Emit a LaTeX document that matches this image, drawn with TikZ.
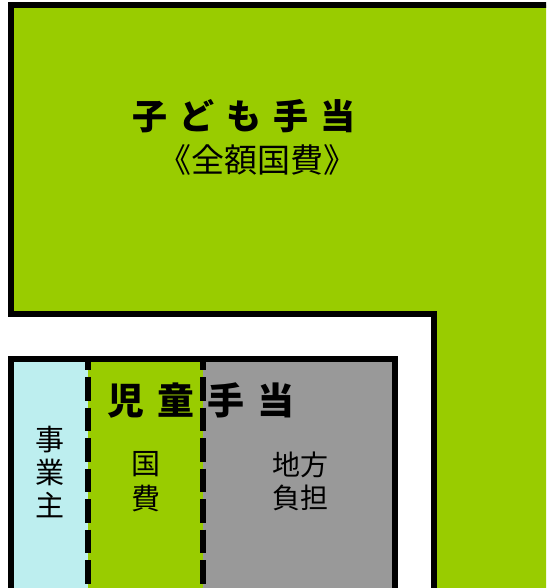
\documentclass[tikz,border=0pt]{standalone}
\usepackage{fontspec}
\setmainfont{Noto Sans CJK JP}
\definecolor{kgreen}{HTML}{99CC00}
\definecolor{kcyan}{HTML}{BDEEEF}
\definecolor{kgray}{HTML}{999999}
\tikzset{
  border/.style={draw=black, line width=6pt, line join=miter},
  divider/.style={draw=black, line width=6pt, dash pattern=on 23.5pt off 7pt, dash phase=12.5pt},
  lbl/.style={inner sep=0pt, anchor=center, align=center, text=black},
}
\begin{document}
\begin{tikzpicture}[x=1pt,y=-1pt]
\clip (0,0) rectangle (546,588);
\fill[white] (0,0) rectangle (546,588);
% big L-shaped green region
\fill[kgreen] (11,5) -- (560,5) -- (560,600) -- (434,600) -- (434,314) -- (11,314) -- cycle;
\draw[border] (560,5) -- (11,5) -- (11,314) -- (434,314) -- (434,600);
% lower box
\fill[kcyan] (11,359) rectangle (88,600);
\fill[kgreen] (88,359) rectangle (203,600);
\fill[kgray] (203,359) rectangle (394.5,600);
\draw[divider] (88,359) -- (88,600);
\draw[divider] (203,359) -- (203,600);
\draw[border] (11,600) -- (11,359) -- (394.5,359) -- (394.5,600);
% texts
\node[lbl, font=\fontsize{35}{40}\selectfont\bfseries] (kodomo) at (244,116)
  {子\hspace{12pt}ど\hspace{12pt}も\hspace{12pt}手\hspace{12pt}当};
\node[lbl, font=\fontsize{33}{38}\selectfont] (zengaku) at (257,160) {《全額国費》};
\node[lbl, font=\fontsize{37}{42}\selectfont\bfseries] (jido) at (201,401)
  {児\hspace{13pt}童\hspace{13pt}手\hspace{13pt}当};
\node[lbl, font=\fontsize{29}{33}\selectfont] (jigyo) at (50,472) {事\\業\\主};
\node[lbl, font=\fontsize{29}{35}\selectfont] (kokuhi) at (146,482) {国\\費};
\node[lbl, font=\fontsize{28}{33}\selectfont] (chiho) at (300,481) {地方\\負担};
\end{tikzpicture}
\end{document}
